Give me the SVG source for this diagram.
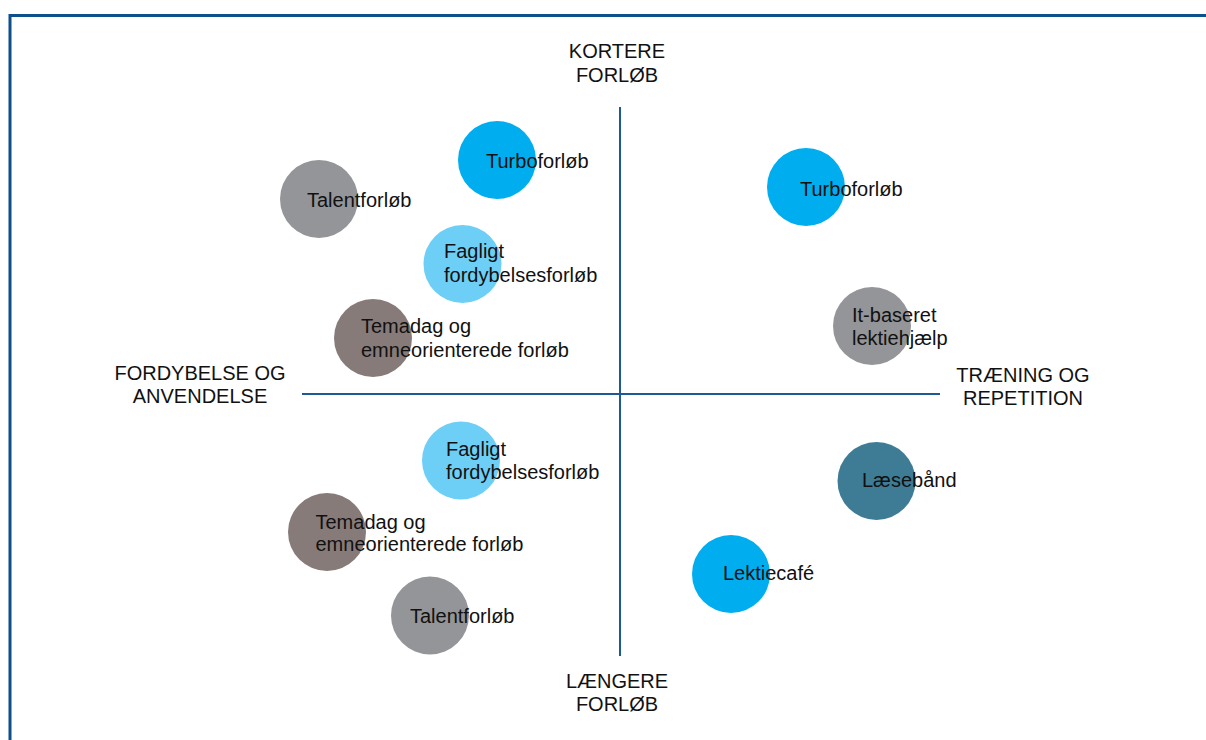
<svg xmlns="http://www.w3.org/2000/svg" width="1206" height="740" viewBox="0 0 1206 740">
<style>
text{font-family:"Liberation Sans",Arial,sans-serif;font-size:20px;fill:#111}
.ax{text-anchor:middle}
.axis{stroke:#1d5a95;stroke-width:2;fill:none}
.frame{stroke:#0c4f8b;stroke-width:3;fill:none}
.blue{fill:#00aeef}.gray{fill:#939598}.lblue{fill:#6dcff6}.brown{fill:#877b79}.teal{fill:#3e7c95}
</style>
<rect width="1206" height="740" fill="#fff"/>
<path class="frame" d="M10,740 V15.5 H1206"/>
<g id="connectors">
<line class="axis" x1="620" y1="107" x2="620" y2="656"/>
<line class="axis" x1="302" y1="394" x2="940" y2="394"/>
</g>
<g id="axis-top"><text class="ax" x="617" y="58">KORTERE</text><text class="ax" x="617" y="82">FORLØB</text></g>
<g id="axis-left"><text class="ax" x="200" y="380">FORDYBELSE OG</text><text class="ax" x="200" y="403">ANVENDELSE</text></g>
<g id="axis-right"><text class="ax" x="1023" y="382">TRÆNING OG</text><text class="ax" x="1023" y="405">REPETITION</text></g>
<g id="axis-bottom"><text class="ax" x="617" y="688">LÆNGERE</text><text class="ax" x="617" y="711">FORLØB</text></g>
<g id="n-turbo1"><circle class="blue" cx="497" cy="160" r="39"/><text x="486" y="168">Turboforløb</text></g>
<g id="n-talent1"><circle class="gray" cx="319" cy="199" r="39"/><text x="307" y="207">Talentforløb</text></g>
<g id="n-fagligt1"><circle class="lblue" cx="462.5" cy="264" r="39"/><text x="444" y="258">Fagligt</text><text x="444" y="281.5">fordybelsesforløb</text></g>
<g id="n-temadag1"><circle class="brown" cx="373" cy="338" r="39"/><text x="361" y="333">Temadag og</text><text x="361" y="356.5">emneorienterede forløb</text></g>
<g id="n-turbo2"><circle class="blue" cx="806" cy="187" r="39"/><text x="800" y="196">Turboforløb</text></g>
<g id="n-it"><circle class="gray" cx="872" cy="326" r="39"/><text x="852" y="322">It-baseret</text><text x="852" y="345">lektiehjælp</text></g>
<g id="n-fagligt2"><circle class="lblue" cx="461" cy="460.5" r="39"/><text x="446" y="456">Fagligt</text><text x="446" y="478.5">fordybelsesforløb</text></g>
<g id="n-temadag2"><circle class="brown" cx="327" cy="532" r="39"/><text x="315.5" y="529">Temadag og</text><text x="315.5" y="551">emneorienterede forløb</text></g>
<g id="n-talent2"><circle class="gray" cx="430" cy="615.5" r="39"/><text x="410" y="623">Talentforløb</text></g>
<g id="n-laesebaand"><circle class="teal" cx="876.5" cy="481" r="39"/><text x="862" y="487">Læsebånd</text></g>
<g id="n-lektiecafe"><circle class="blue" cx="731" cy="574" r="39"/><text x="723" y="580">Lektiecafé</text></g>
</svg>
